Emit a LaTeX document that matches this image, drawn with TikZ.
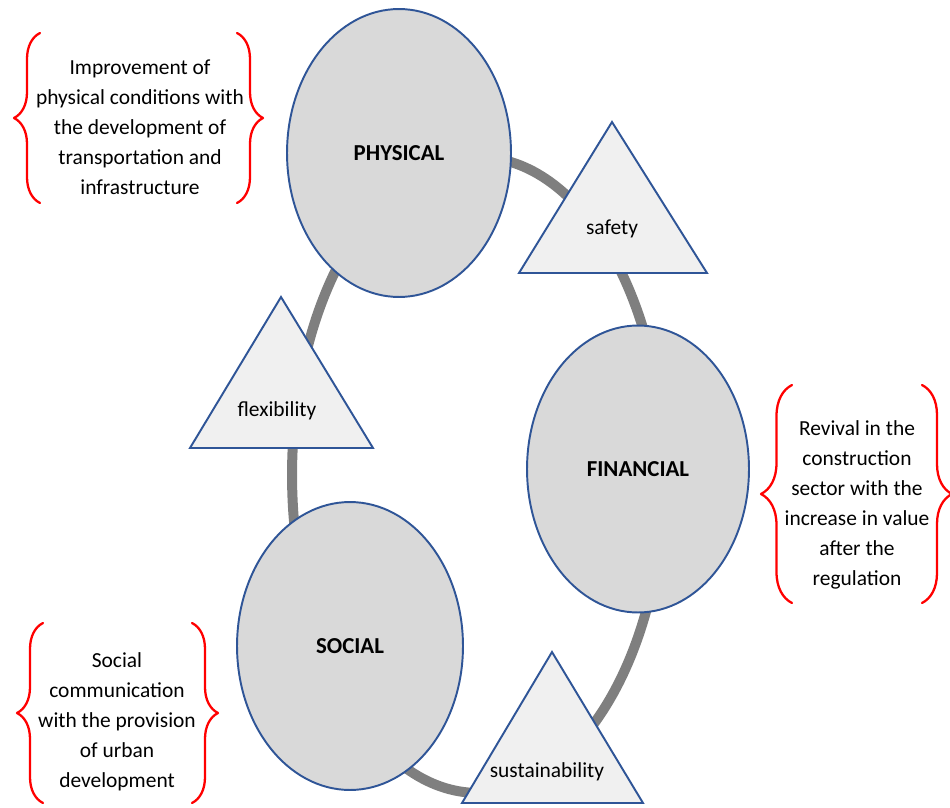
\documentclass[tikz,border=0pt]{standalone}
\usepackage{fontspec}
\setmainfont{Carlito}
\usepackage{xcolor}
\usepackage{tikz}
\usetikzlibrary{positioning,calc,shapes.geometric,decorations.pathreplacing}

\definecolor{ringgray}{HTML}{7F7F7F}
\definecolor{ovalfill}{HTML}{D9D9D9}
\definecolor{trifill}{HTML}{F0F0F0}
\definecolor{edgeblue}{HTML}{2F5597}

\begin{document}
\begin{tikzpicture}[x=0.02cm,y=-0.02cm, font=\fontsize{12.2}{17}\selectfont, line cap=round, line join=round]
				\useasboundingbox (0,0) rectangle (950,808);
				
				% ===== styles =====
				\tikzset{oval/.style={ellipse, draw=edgeblue, fill=ovalfill, line width=1.1pt, inner sep=0pt, font=\fontsize{13}{15}\selectfont\bfseries},
					tri/.style={draw=edgeblue, fill=trifill, line width=1.1pt, line join=miter},
					note/.style={align=center, inner sep=0pt},
					curly/.style={draw=red, line width=1.3pt, decorate, decoration={brace, amplitude=#1}}}
				
				% ===== grey ring =====
				\draw[ringgray, line width=0.2cm] (478,475) ellipse [x radius=3.72cm, y radius=6.36cm];
				
				% ===== the three ovals =====
				\node[oval, minimum width=4.48cm, minimum height=5.76cm] (physical) at (399,153) {PHYSICAL};
				\node[oval, minimum width=4.44cm, minimum height=5.74cm] (financial) at (638,469) {FINANCIAL};
				\node[oval, minimum width=4.52cm, minimum height=5.76cm] (social) at (350,646) {SOCIAL};
				
				% ===== the three triangles =====
				\draw[tri] (612,122) -- (519,273) -- (707,273) -- cycle; \node (safety) at (612,229) {safety};
				\draw[tri] (281,297) -- (190,448) -- (373,448) -- cycle; \node (flexibility) at (277,411) {flexibility};
				\draw[tri] (552,652) -- (462,803) -- (643,803) -- cycle; \node (sustainability) at (547,772) {sustainability};
				
				% ===== notes =====
				\node[note] (physnote) at (140,127) {Improvement of\\physical conditions with\\the development of\\transportation and\\infrastructure};
				\node[note] (finnote) at (857,505) {Revival in the\\construction\\sector with the\\increase in value\\after the\\regulation};
				\node[note] (socnote) at (117,722) {Social\\communication\\with the provision\\of urban\\development};
				
				% ===== braces =====
				\coordinate (pa) at (40,203);  \coordinate (pb) at (40,33);
				\coordinate (pc) at (237,33);  \coordinate (pd) at (237,203);
				\coordinate (fa) at (792,603); \coordinate (fb) at (792,385);
				\coordinate (fc) at (922,385); \coordinate (fd) at (922,603);
				\coordinate (sa) at (43,803);  \coordinate (sb) at (43,623);
				\coordinate (sc) at (192,623); \coordinate (sd) at (192,803);
				\draw[curly=0.52cm] (pa) -- (pb); \draw[curly=0.52cm] (pc) -- (pd);
				\draw[curly=0.62cm] (fa) -- (fb); \draw[curly=0.6cm] (fc) -- (fd);
				\draw[curly=0.52cm] (sa) -- (sb); \draw[curly=0.52cm] (sc) -- (sd);
			\end{tikzpicture}
\end{document}
